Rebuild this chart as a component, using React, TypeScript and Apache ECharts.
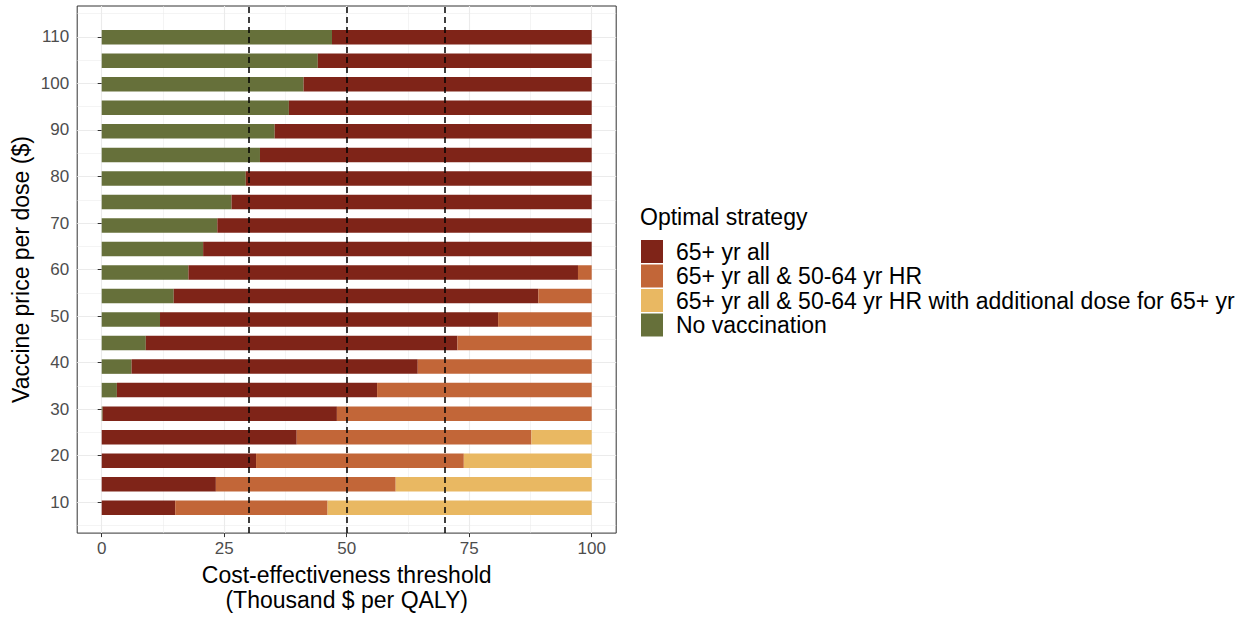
import React, { useEffect, useRef } from 'react';
import * as echarts from 'echarts';

const FONT = '"Liberation Sans", Arial, Helvetica, sans-serif';

// ---- data ----
const prices = ['10', '15', '20', '25', '30', '35', '40', '45', '50', '55', '60', '65', '70', '75', '80', '85', '90', '95', '100', '105', '110'];
const noVaccination = [0, 0, 0, 0, 0.2, 3.1, 6.1, 9.0, 11.9, 14.7, 17.7, 20.7, 23.6, 26.5, 29.4, 32.3, 35.3, 38.2, 41.2, 44.1, 47.0];
const all65 = [15.0, 23.3, 31.5, 39.8, 47.8, 53.1, 58.4, 63.6, 69.0, 74.4, 79.5, 79.3, 76.4, 73.5, 70.6, 67.7, 64.7, 61.8, 58.8, 55.9, 53.0];
const all65HR = [31.1, 36.7, 42.4, 47.9, 52.0, 43.8, 35.5, 27.4, 19.1, 10.9, 2.8, 0, 0, 0, 0, 0, 0, 0, 0, 0, 0];
const all65HRDose = [53.9, 40.0, 26.1, 12.3, 0, 0, 0, 0, 0, 0, 0, 0, 0, 0, 0, 0, 0, 0, 0, 0, 0];
const thresholds = [30, 50, 70];
const xTicks = [0, 25, 50, 75, 100];
const xMinorTicks = [12.5, 37.5, 62.5, 87.5];
const yTicks = [10, 20, 30, 40, 50, 60, 70, 80, 90, 100, 110];
const yMinorTicks = [5, 15, 25, 35, 45, 55, 65, 75, 85, 95, 105, 115];

const NAME_ALL = '65+ yr all';
const NAME_HR = '65+ yr all & 50-64 yr HR';
const NAME_DOSE = '65+ yr all & 50-64 yr HR with additional dose for 65+ yr';
const NAME_NONE = 'No vaccination';

const COLORS = {
  all: '#7F2418',
  hr: '#C26638',
  dose: '#E9B862',
  none: '#66703A',
};

// ---- geometry ----
const PANEL_LEFT = 77.2;
const PANEL_TOP = 6;
const PANEL_W = 539;
const PANEL_H = 533;
const X_MIN = -5;
const X_MAX = 105;
const Y_MIN = 3.35;
const Y_MAX = 116.65;
const STEP = 5;
const pxPerY = PANEL_H / (Y_MAX - Y_MIN);
const bandLo = Number(prices[0]) - STEP / 2;
const bandHi = Number(prices[prices.length - 1]) + STEP / 2;
const BAR_TOP = PANEL_TOP + (Y_MAX - bandHi) * pxPerY;
const BAR_H = (bandHi - bandLo) * pxPerY;

function buildOption(): any {
  const barSeries = (name: string, data: number[], color: string) => ({
    type: 'bar',
    name,
    stack: 'total',
    xAxisIndex: 2,
    yAxisIndex: 2,
    data,
    barWidth: 14.5,
    itemStyle: { color },
    z: 2,
  });
  return {
    animation: false,
    backgroundColor: '#ffffff',
    textStyle: { fontFamily: FONT },
    title: {
      text: 'Optimal strategy',
      left: 640,
      top: 205,
      padding: 0,
      textStyle: { fontSize: 23, fontWeight: 'normal', color: '#000', fontFamily: FONT },
    },
    legend: {
      orient: 'vertical',
      left: 641,
      top: 240,
      padding: 0,
      itemWidth: 22,
      itemHeight: 23,
      itemGap: 1.5,
      icon: 'rect',
      selectedMode: false,
      data: [NAME_ALL, NAME_HR, NAME_DOSE, NAME_NONE],
      textStyle: { fontSize: 23, color: '#000', fontFamily: FONT, padding: [0, 0, 0, 8] },
    },
    grid: [
      {
        left: PANEL_LEFT,
        top: PANEL_TOP,
        width: PANEL_W,
        height: PANEL_H,
        show: true,
        borderColor: '#333333',
        borderWidth: 1,
        backgroundColor: '#ffffff',
      },
      {
        left: PANEL_LEFT,
        top: BAR_TOP,
        width: PANEL_W,
        height: BAR_H,
        show: false,
      },
    ],
    xAxis: [
      {
        type: 'value',
        gridIndex: 0,
        min: X_MIN,
        max: X_MAX,
        position: 'bottom',
        axisLine: { show: false },
        axisTick: { show: true, length: 4, customValues: xTicks, lineStyle: { color: '#333333', width: 1 } },
        axisLabel: { customValues: xTicks, fontSize: 17, color: '#4D4D4D', margin: 7, fontFamily: FONT },
        splitLine: { show: true, lineStyle: { color: '#EBEBEB', width: 1.1 } },
        name: 'Cost-effectiveness threshold\n(Thousand $ per QALY)',
        nameLocation: 'middle',
        nameGap: 24,
        nameTextStyle: { fontSize: 23, lineHeight: 25, color: '#000', fontFamily: FONT },
      },
      {
        type: 'value',
        gridIndex: 0,
        min: X_MIN,
        max: X_MAX,
        position: 'top',
        axisLine: { show: false },
        axisTick: { show: false, customValues: xMinorTicks },
        axisLabel: { show: false, customValues: xMinorTicks },
        splitLine: { show: true, lineStyle: { color: '#EBEBEB', width: 0.55 } },
      },
      {
        type: 'value',
        gridIndex: 1,
        min: X_MIN,
        max: X_MAX,
        show: false,
        splitLine: { show: false },
      },
    ],
    yAxis: [
      {
        type: 'value',
        gridIndex: 0,
        min: Y_MIN,
        max: Y_MAX,
        position: 'left',
        axisLine: { show: false },
        axisTick: { show: true, length: 4, customValues: yTicks, lineStyle: { color: '#333333', width: 1 } },
        axisLabel: { customValues: yTicks, fontSize: 17, color: '#4D4D4D', margin: 8, fontFamily: FONT },
        splitLine: { show: true, lineStyle: { color: '#EBEBEB', width: 1.1 } },
        name: 'Vaccine price per dose ($)',
        nameLocation: 'middle',
        nameRotate: 90,
        nameGap: 45,
        nameTextStyle: { fontSize: 23, color: '#000', fontFamily: FONT },
      },
      {
        type: 'value',
        gridIndex: 0,
        min: Y_MIN,
        max: Y_MAX,
        position: 'right',
        axisLine: { show: false },
        axisTick: { show: false, customValues: yMinorTicks },
        axisLabel: { show: false, customValues: yMinorTicks },
        splitLine: { show: true, lineStyle: { color: '#EBEBEB', width: 0.55 } },
      },
      {
        type: 'category',
        gridIndex: 1,
        data: prices,
        show: false,
        boundaryGap: true,
      },
    ],
    series: [
      barSeries(NAME_NONE, noVaccination, COLORS.none),
      barSeries(NAME_ALL, all65, COLORS.all),
      barSeries(NAME_HR, all65HR, COLORS.hr),
      barSeries(NAME_DOSE, all65HRDose, COLORS.dose),
      {
        type: 'line',
        xAxisIndex: 0,
        yAxisIndex: 0,
        data: [],
        z: 10,
        markLine: {
          silent: true,
          symbol: ['none', 'none'],
          label: { show: false },
          lineStyle: { type: [6, 4], color: '#000000', width: 1.5 },
          data: thresholds.map((v) => ({ xAxis: v })),
        },
      },
    ],
  };
}

export default function App() {
  const ref = useRef<HTMLDivElement>(null);
  useEffect(() => {
    if (!ref.current) return;
    const chart = echarts.init(ref.current, null, { renderer: 'svg' });
    chart.setOption(buildOption());
    return () => {
      chart.dispose();
    };
  }, []);
  return (
    <div
      ref={ref}
      style={{ position: 'fixed', left: 0, top: 0, width: 1246, height: 617, background: '#ffffff' }}
    />
  );
}
